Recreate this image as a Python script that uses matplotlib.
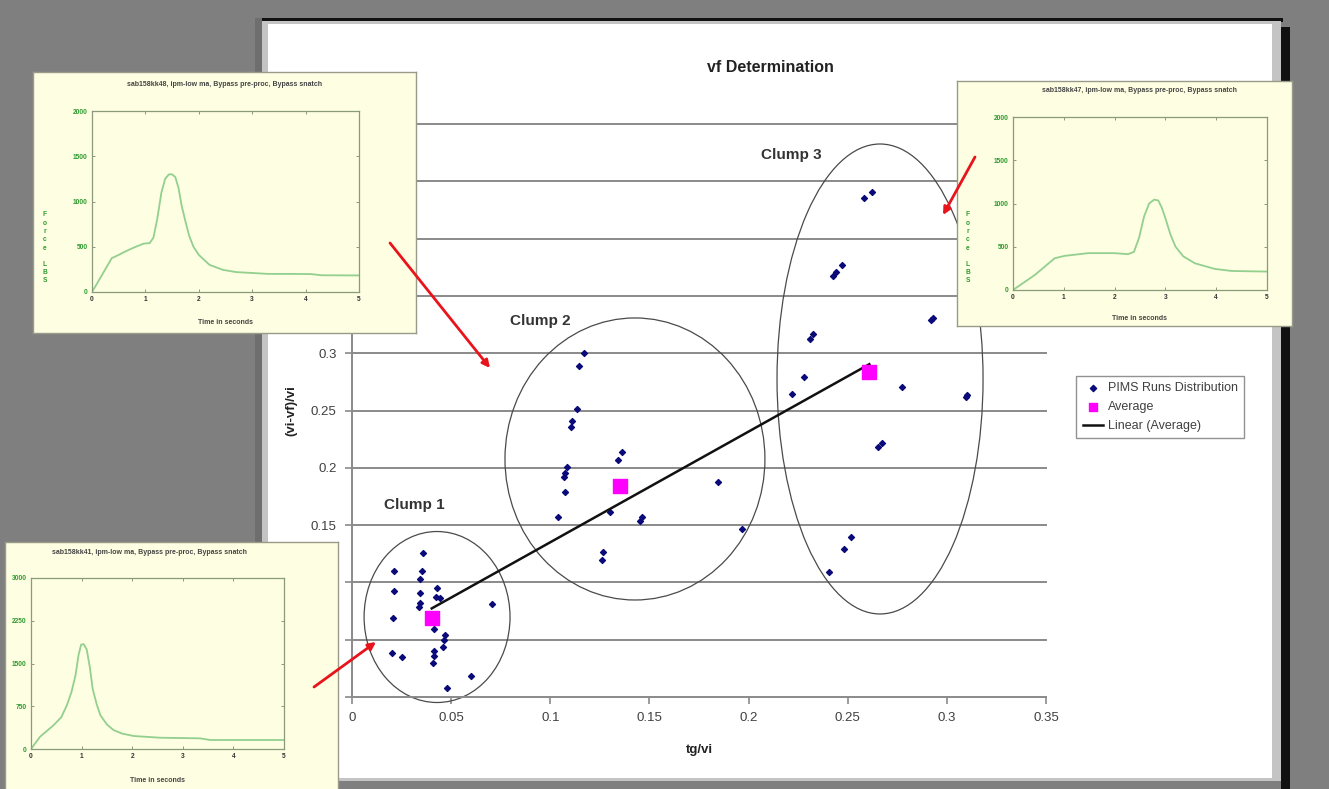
import numpy as np
import matplotlib
matplotlib.use("Agg")
import matplotlib.pyplot as plt
from matplotlib.patches import Rectangle, Ellipse, FancyArrowPatch

plt.rcParams['font.family'] = ['Liberation Sans', 'DejaVu Sans']

# ---------------- data ----------------
pims_x = [0.0357, 0.0213, 0.0352, 0.0343, 0.0213, 0.0343, 0.0430, 0.0424, 0.0444, 0.0343,
          0.0338, 0.0708, 0.0208, 0.0415, 0.0469, 0.0464, 0.0457, 0.0200, 0.0251, 0.0415,
          0.0415, 0.0410, 0.0600, 0.0478,
          0.1172, 0.1146, 0.1133, 0.1111, 0.1104, 0.1360, 0.1343, 0.1086, 0.1074, 0.1069,
          0.1074, 0.1847, 0.1040, 0.1301, 0.1461, 0.1452, 0.1968, 0.1267, 0.1259,
          0.2582, 0.2624, 0.2424, 0.2439, 0.2470, 0.2310, 0.2323, 0.2918, 0.2929, 0.2279,
          0.2220, 0.2774, 0.3096, 0.3103, 0.2654, 0.2671, 0.2516, 0.2481, 0.2407]
pims_y = [0.1254, 0.1102, 0.1102, 0.1030, 0.0928, 0.0910, 0.0949, 0.0870, 0.0861, 0.0823,
          0.0783, 0.0812, 0.0687, 0.0591, 0.0541, 0.0497, 0.0439, 0.0381, 0.0352, 0.0401,
          0.0358, 0.0299, 0.0183, 0.0081,
          0.2999, 0.2888, 0.2513, 0.2411, 0.2353, 0.2141, 0.2068, 0.2010, 0.1952, 0.1922,
          0.1791, 0.1879, 0.1568, 0.1617, 0.1573, 0.1538, 0.1463, 0.1268, 0.1195,
          0.4352, 0.4409, 0.3676, 0.3711, 0.3770, 0.3121, 0.3168, 0.3290, 0.3310, 0.2790,
          0.2641, 0.2702, 0.2620, 0.2635, 0.2179, 0.2214, 0.1394, 0.1291, 0.1088]

avg_x = [0.0402, 0.1352, 0.2609]
avg_y = [0.0687, 0.1841, 0.2839]

clump_labels = ["Clump 1", "Clump 2", "Clump 3"]
x_ticks = [0, 0.05, 0.1, 0.15, 0.2, 0.25, 0.3, 0.35]
x_tick_labels = ["0", "0.05", "0.1", "0.15", "0.2", "0.25", "0.3", "0.35"]
y_ticks = [0, 0.05, 0.1, 0.15, 0.2, 0.25, 0.3, 0.35, 0.4, 0.45, 0.5]
y_tick_labels = ["0", "0.05", "0.1", "0.15", "0.2", "0.25", "0.3", "0.35", "0.4", "0.45", "0.5"]

# inset force curves
t1 = [0, 0.15, 0.37, 0.5, 0.65, 0.8, 0.97, 1.08, 1.15, 1.22, 1.3, 1.37, 1.44, 1.5, 1.56,
      1.62, 1.68, 1.75, 1.82, 1.9, 2.0, 2.2, 2.45, 2.7, 3.0, 3.3, 3.7, 4.1, 4.3, 5.0]
f1 = [0, 150, 374, 410, 455, 495, 535, 540, 600, 800, 1100, 1250, 1300, 1300, 1270,
      1150, 950, 780, 620, 500, 410, 300, 245, 220, 210, 200, 200, 198, 185, 183]
t2 = [0, 0.43, 0.82, 1.02, 1.48, 2.0, 2.26, 2.38, 2.48, 2.58, 2.68, 2.78, 2.86, 2.93, 3.0,
      3.1, 3.2, 3.35, 3.58, 3.97, 4.3, 5.0]
f2 = [0, 174, 367, 395, 426, 426, 414, 440, 600, 850, 1000, 1045, 1035, 950, 830,
      640, 500, 390, 309, 244, 220, 213]
t3 = [0, 0.18, 0.45, 0.6, 0.71, 0.8, 0.88, 0.94, 0.99, 1.04, 1.1, 1.16, 1.22, 1.3, 1.37,
      1.5, 1.63, 1.8, 2.03, 2.55, 3.34, 3.54, 5.0]
f3 = [0, 216, 420, 560, 770, 1000, 1296, 1650, 1830, 1840, 1750, 1450, 1050, 780, 595,
      430, 333, 270, 228, 198, 187, 158, 158]
inset_titles = ["sab158kk48, ipm-low ma, Bypass pre-proc, Bypass snatch",
                "sab158kk47, ipm-low ma, Bypass pre-proc, Bypass snatch",
                "sab158kk41, ipm-low ma, Bypass pre-proc, Bypass snatch"]

# ---------------- layout helpers ----------------
W, H = 1329, 789
fig = plt.figure(figsize=(W / 100, H / 100), dpi=100, facecolor='#7f7f7f')


def fx(px):
    return px / W


def fy(py):
    return 1 - py / H


def box(x0, y0, x1, y1):
    return [fx(x0), fy(y1), (x1 - x0) / W, (y1 - y0) / H]


def frect(x0, y0, x1, y1, color, z):
    fig.add_artist(Rectangle((fx(x0), fy(y1)), (x1 - x0) / W, (y1 - y0) / H,
                             transform=fig.transFigure, facecolor=color,
                             edgecolor='none', zorder=z))


# slide panel with shadow
frect(255, 18, 262, 789, '#6e6e6e', -6)
frect(262, 18, 1283, 22, '#111111', -5)
frect(1281, 27, 1290, 789, '#111111', -5)
frect(262, 21, 1281, 781, '#c4c4c4', -4)
frect(268, 24, 1272, 778, '#ffffff', -3)

# ---------------- main chart ----------------
ax = fig.add_axes(box(352, 124, 1046, 697), zorder=1)
ax.set_facecolor('none')
ax.set_xlim(0, 0.35)
ax.set_ylim(0, 0.5)
for yv in y_ticks[1:]:
    ax.axhline(yv, color='#8a8a8a', lw=1.4, zorder=0, clip_on=False)
for s in ['top', 'right']:
    ax.spines[s].set_visible(False)
for s in ['left', 'bottom']:
    ax.spines[s].set_color('#8a8a8a')
    ax.spines[s].set_linewidth(1.4)
ax.set_xticks(x_ticks)
ax.set_xticklabels(x_tick_labels)
ax.set_yticks(y_ticks)
ax.set_yticklabels(y_tick_labels)
ax.tick_params(direction='out', length=5, width=1.2, color='#8a8a8a',
               labelcolor='#404040', labelsize=9.5, pad=6)
ax.set_xlabel('tg/vi', fontsize=9.5, fontweight='bold', color='#222222', labelpad=14)
ax.set_ylabel('(vi-vf)/vi', fontsize=9.5, fontweight='bold', color='#222222', labelpad=10)

ax.scatter(pims_x, pims_y, marker='D', s=9, color='#0a0a78', zorder=3,
           label='PIMS Runs Distribution', clip_on=False)
ax.scatter(avg_x, avg_y, marker='s', s=105, color='#ff00ff', zorder=4, label='Average')
coef = np.polyfit(avg_x, avg_y, 1)
xs = np.array([min(avg_x), max(avg_x)])
ax.plot(xs, np.polyval(coef, xs), color='#111111', lw=1.8, zorder=3, label='Linear (Average)')

# clump ellipses (annotation shapes)
ellipses = [(0.0429, 0.0698, 0.0736, 0.1492),
            (0.1427, 0.2077, 0.1311, 0.2461),
            (0.2663, 0.2775, 0.1039, 0.4101)]
for cx, cy, w, h in ellipses:
    ax.add_patch(Ellipse((cx, cy), w, h, fill=False, edgecolor='#4a4a4a', lw=0.9,
                         clip_on=False, zorder=2))

fig.text(fx(414), fy(505), clump_labels[0], ha='center', va='center', fontsize=11,
         fontweight='bold', color='#333333')
fig.text(fx(540), fy(321), clump_labels[1], ha='center', va='center', fontsize=11,
         fontweight='bold', color='#333333')
fig.text(fx(791), fy(155), clump_labels[2], ha='center', va='center', fontsize=11,
         fontweight='bold', color='#333333')

fig.text(fx(770), fy(67), 'vf Determination', ha='center', va='center', fontsize=11.5,
         fontweight='bold', color='#222222')

leg = ax.legend(loc='upper left', bbox_to_anchor=(fx(1070), fy(370)),
                bbox_transform=fig.transFigure, fontsize=9, frameon=True,
                fancybox=False, edgecolor='#777777', borderpad=0.5,
                handlelength=1.6, handletextpad=0.4, labelspacing=0.55,
                markerscale=1.0)
leg.get_frame().set_linewidth(1.0)
for txt in leg.get_texts():
    txt.set_color('#404040')
lh = leg.legend_handles
lh[0].set_sizes([10])
lh[1].set_sizes([40])

# ---------------- insets ----------------
card_color = '#fefee2'
curve_color = '#93cf8f'


def inset(card, inner, t, f, ymax, yticks, title, title_xy, xlab_xy, ylab_xy):
    cax = fig.add_axes(box(*card), zorder=5)
    cax.set_facecolor(card_color)
    cax.set_xticks([])
    cax.set_yticks([])
    for s in cax.spines.values():
        s.set_color('#9a9a8a')
        s.set_linewidth(1.0)
    iax = fig.add_axes(box(*inner), zorder=6)
    iax.set_facecolor(card_color)
    iax.plot(t, f, color=curve_color, lw=1.3)
    iax.set_xlim(0, 5)
    iax.set_ylim(0, ymax)
    iax.set_xticks([0, 1, 2, 3, 4, 5])
    iax.set_yticks(yticks)
    iax.tick_params(direction='in', length=2.5, width=0.6, color='#7a8a6a',
                    top=True, right=True, labelsize=4.8, pad=3)
    for lab in iax.get_xticklabels():
        lab.set_fontweight('bold')
        lab.set_color('#333333')
    for lab in iax.get_yticklabels():
        lab.set_fontweight('bold')
        lab.set_color('#2e9a2e')
    for s in iax.spines.values():
        s.set_color('#8a9a7a')
        s.set_linewidth(0.9)
    fig.text(fx(title_xy[0]), fy(title_xy[1]), title, ha='center', va='center',
             fontsize=5, fontweight='bold', color='#444444', zorder=7)
    fig.text(fx(xlab_xy[0]), fy(xlab_xy[1]), 'Time in seconds', ha='center', va='center',
             fontsize=5, fontweight='bold', color='#444444', zorder=7)
    if ylab_xy is not None:
        fig.text(fx(ylab_xy[0]), fy(ylab_xy[1]), 'F\no\nr\nc\ne\n\nL\nB\nS', ha='center',
                 va='center', fontsize=4.8, fontweight='bold', color='#2e9a2e',
                 linespacing=1.25, zorder=7)


inset((33, 72, 416, 333), (92, 111, 359, 292), t1, f1, 2000, [0, 500, 1000, 1500, 2000],
      inset_titles[0], (225, 84), (225, 323), (45, 248))
inset((957, 81, 1292, 326), (1013, 117, 1267, 290), t2, f2, 2000, [0, 500, 1000, 1500, 2000],
      inset_titles[1], (1140, 91), (1140, 318), (968, 248))
inset((5, 542, 338, 792), (31, 578, 284, 749), t3, f3, 3000, [0, 750, 1500, 2250, 3000],
      inset_titles[2], (150, 552), (157, 780), None)

# ---------------- red arrows ----------------
arrows = [((390, 243), (490, 368)), ((975, 157), (943, 215)), ((314, 687), (376, 642))]
for (x0, y0), (x1, y1) in arrows:
    fig.add_artist(FancyArrowPatch((fx(x0), fy(y0)), (fx(x1), fy(y1)),
                                   transform=fig.transFigure, arrowstyle='-|>',
                                   mutation_scale=11, color='#e8141c', lw=2.0,
                                   shrinkA=0, shrinkB=0, zorder=20))

fig.savefig('out.png', dpi=100, facecolor=fig.get_facecolor())
